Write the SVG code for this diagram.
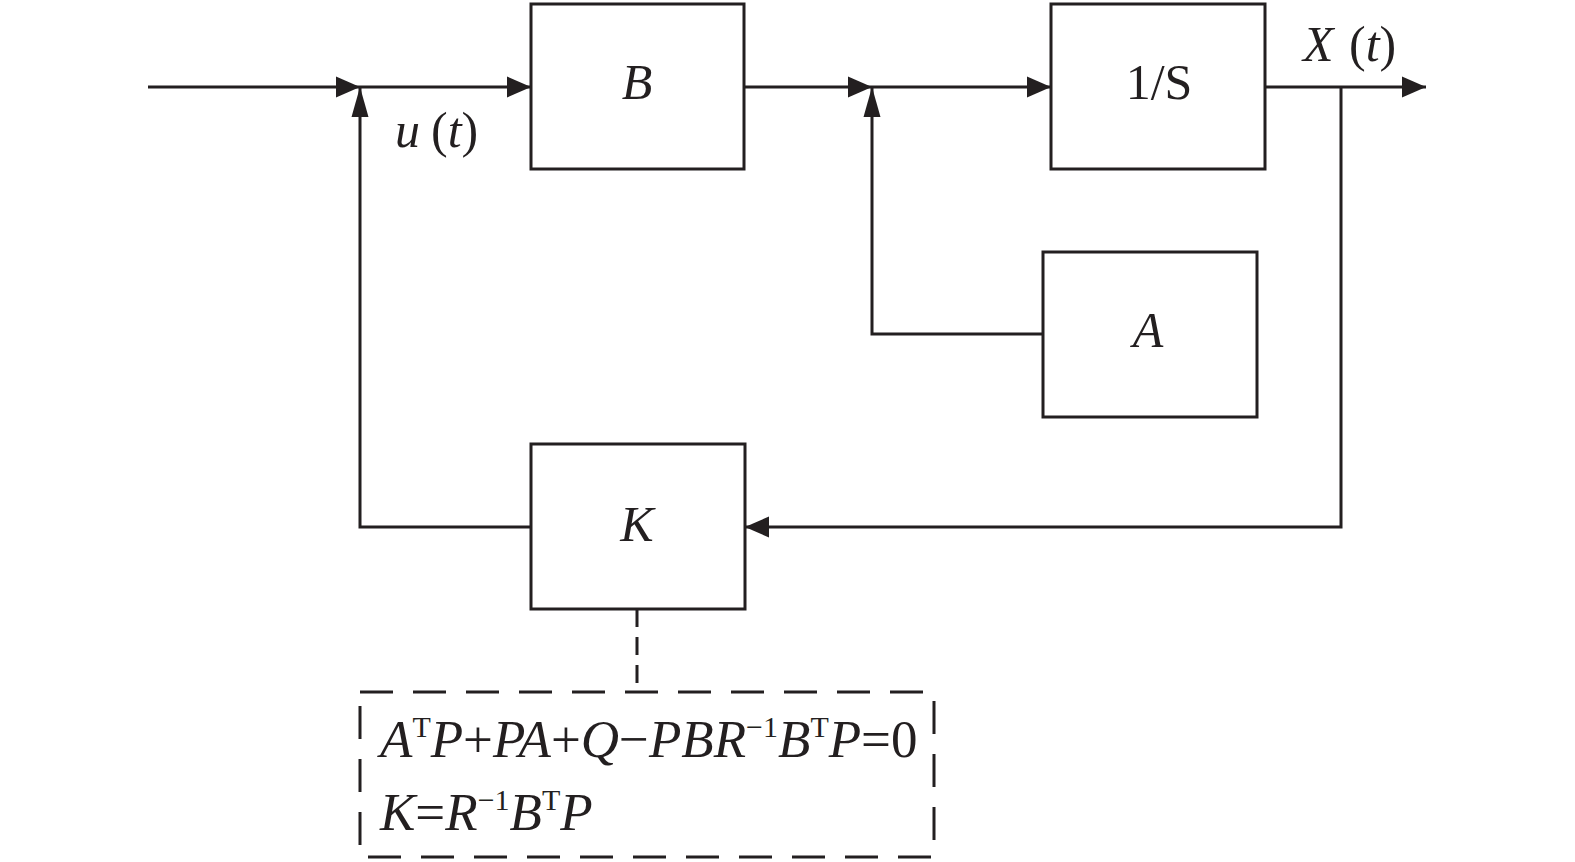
<svg xmlns="http://www.w3.org/2000/svg" width="1575" height="862" viewBox="0 0 1575 862">
<style>
.box{fill:#fff;stroke:#231f20;stroke-width:3;stroke-linejoin:miter}
.ln{fill:none;stroke:#231f20;stroke-width:3}
.dash{fill:none;stroke:#231f20;stroke-width:3}
.t{font-family:"Liberation Serif","Times New Roman",serif;font-size:50px;fill:#231f20}
.eq{font-size:53px}
.i{font-style:italic}
.sup{font-size:30px;font-style:normal}
</style>
<defs>
<marker id="ah" markerUnits="userSpaceOnUse" markerWidth="24" markerHeight="22" refX="24" refY="11" orient="auto" overflow="visible">
<path d="M0,0.5 L24,11 L0,21.5 Z" fill="#231f20"/>
</marker>
<marker id="av" markerUnits="userSpaceOnUse" markerWidth="30" markerHeight="18" refX="30" refY="9" orient="auto" overflow="visible">
<path d="M0,0.5 L30,9 L0,17.5 Z" fill="#231f20"/>
</marker>
</defs>
<rect width="1575" height="862" fill="#fff"/>
<g id="connectors">
<line class="ln" x1="148" y1="87" x2="360" y2="87" marker-end="url(#ah)"/>
<line class="ln" x1="360" y1="87" x2="531" y2="87" marker-end="url(#ah)"/>
<polyline class="ln" points="531,527 360,527 360,87" marker-end="url(#av)"/>
<line class="ln" x1="744" y1="87" x2="872" y2="87" marker-end="url(#ah)"/>
<line class="ln" x1="872" y1="87" x2="1051" y2="87" marker-end="url(#ah)"/>
<polyline class="ln" points="1043,334 872,334 872,87" marker-end="url(#av)"/>
<line class="ln" x1="1265" y1="87" x2="1426" y2="87" marker-end="url(#ah)"/>
<polyline class="ln" points="1341,87 1341,527 745,527" marker-end="url(#ah)"/>
<line class="dash" x1="637" y1="609" x2="637" y2="692" stroke-dasharray="18 10"/>
</g>
<g id="node-B">
<rect class="box" x="531" y="4" width="213" height="165"/>
<text class="t i" x="637" y="99" text-anchor="middle">B</text>
</g>
<g id="node-integrator">
<rect class="box" x="1051" y="4" width="214" height="165"/>
<text class="t" x="1159" y="99" text-anchor="middle">1/S</text>
</g>
<g id="node-A">
<rect class="box" x="1043" y="252" width="214" height="165"/>
<text class="t i" x="1148" y="347" text-anchor="middle">A</text>
</g>
<g id="node-K">
<rect class="box" x="531" y="444" width="214" height="165"/>
<text class="t i" x="637" y="541" text-anchor="middle">K</text>
</g>
<g id="label-u">
<text class="t" x="395" y="147" font-size="48"><tspan class="i">u</tspan><tspan x="431">(</tspan><tspan class="i">t</tspan>)</text>
</g>
<g id="label-X">
<text class="t" x="1303" y="61"><tspan class="i">X</tspan><tspan x="1349">(</tspan><tspan class="i">t</tspan>)</text>
</g>
<g id="riccati">
<rect class="dash" x="360" y="692" width="574" height="165" stroke-dasharray="33 20"/>
<text class="t eq" x="380" y="757"><tspan class="i">A</tspan><tspan class="sup" dy="-20">T</tspan><tspan class="i" dy="20">P</tspan>+<tspan class="i">PA</tspan>+<tspan class="i">Q</tspan>−<tspan class="i">PBR</tspan><tspan class="sup" dy="-20">−1</tspan><tspan class="i" dy="20">B</tspan><tspan class="sup" dy="-20">T</tspan><tspan class="i" dy="20">P</tspan>=0</text>
<text class="t eq" x="380" y="830"><tspan class="i">K</tspan>=<tspan class="i">R</tspan><tspan class="sup" dy="-20">−1</tspan><tspan class="i" dy="20">B</tspan><tspan class="sup" dy="-20">T</tspan><tspan class="i" dy="20">P</tspan></text>
</g>
</svg>
